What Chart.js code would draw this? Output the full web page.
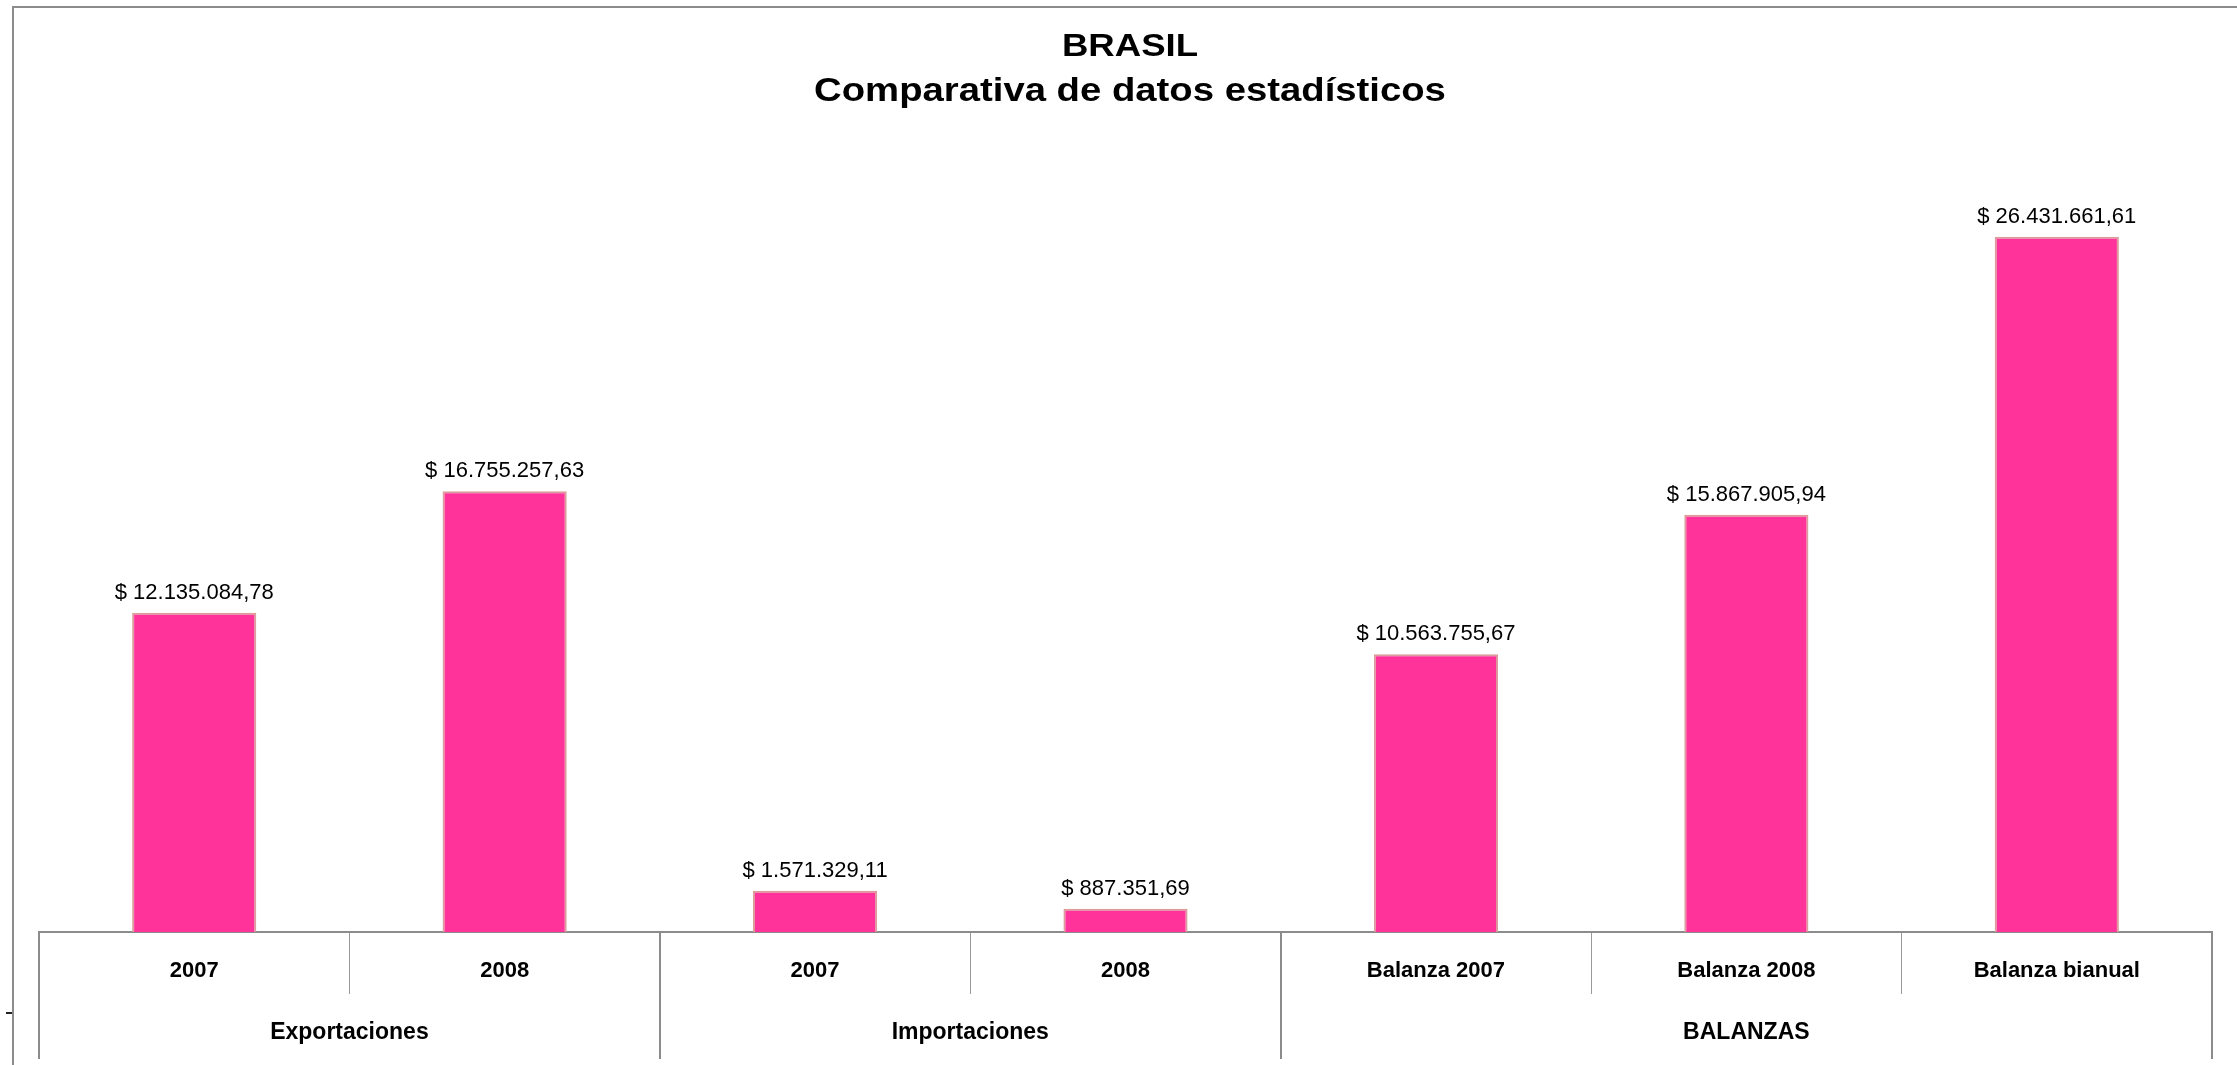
<!DOCTYPE html>
<html>
<head>
<meta charset="utf-8">
<script src="https://cdn.jsdelivr.net/npm/chart.js@4.4.1/dist/chart.umd.min.js"></script>
<style>
  html, body { margin: 0; padding: 0; background: #fff; }
  canvas { display: block; }
</style>
</head>
<body>
<canvas id="brasilChart" width="2237" height="1065"></canvas>
<script>
// Data
const categories = ['2007', '2008', '2007', '2008', 'Balanza 2007', 'Balanza 2008', 'Balanza bianual'];
const groupNames = ['Exportaciones', 'Importaciones', 'BALANZAS'];
const groupSpans = [2, 2, 3];
const values = [12135084.78, 16755257.63, 1571329.11, 887351.69, 10563755.67, 15867905.94, 26431661.61];
const titleLines = ['BRASIL', 'Comparativa de datos estadísticos'];

const FONT = '"Liberation Sans", Arial, sans-serif';

// $ 12.135.084,78 style
function fmtMoney(v) {
    const parts = v.toFixed(2).split('.');
    return '$ ' + parts[0].replace(/\B(?=(\d{3})+(?!\d))/g, '.') + ',' + parts[1];
}

const decorPlugin = {
    id: 'decor',
    afterDraw(chart) {
        const ctx = chart.ctx;
        const xs = chart.scales.x;
        const base = chart.chartArea.bottom;

        ctx.save();

        // outer frame (only top and left visible)
        ctx.strokeStyle = '#8c8c8c';
        ctx.lineWidth = 2;
        ctx.beginPath();
        ctx.moveTo(13, 1065);
        ctx.lineTo(13, 7);
        ctx.lineTo(2237, 7);
        ctx.stroke();
        // small dash on the left
        ctx.strokeStyle = '#222';
        ctx.beginPath();
        ctx.moveTo(6, 1013);
        ctx.lineTo(12, 1013);
        ctx.stroke();

        // title
        ctx.fillStyle = '#000';
        ctx.textAlign = 'center';
        ctx.textBaseline = 'alphabetic';
        const cx = 1130;
        [[titleLines[0], 31, 56, 1.18], [titleLines[1], 33, 101, 1.16]].forEach(([txt, size, y, sx]) => {
            ctx.save();
            ctx.translate(cx, y);
            ctx.scale(sx, 1);
            ctx.font = 'bold ' + size + 'px ' + FONT;
            ctx.fillText(txt, 0, 0);
            ctx.restore();
        });

        // category boundaries
        const edge = i => {
            if (i <= 0) return xs.left;
            if (i >= categories.length) return xs.right;
            return (xs.getPixelForValue(i - 1) + xs.getPixelForValue(i)) / 2;
        };

        // group divider lines
        ctx.strokeStyle = '#8c8c8c';
        ctx.lineWidth = 2;
        let start = 0;
        const bounds = [0];
        groupSpans.forEach(n => { start += n; bounds.push(start); });
        bounds.forEach(b => {
            const x = Math.round(edge(b));
            ctx.beginPath();
            ctx.moveTo(x, base);
            ctx.lineTo(x, 1059);
            ctx.stroke();
        });

        // category labels
        ctx.fillStyle = '#000';
        ctx.font = 'bold 22px ' + FONT;
        categories.forEach((c, i) => {
            ctx.fillText(c, xs.getPixelForValue(i), 977);
        });

        // group labels
        ctx.font = 'bold 23px ' + FONT;
        groupNames.forEach((g, k) => {
            const x = (edge(bounds[k]) + edge(bounds[k + 1])) / 2;
            ctx.fillText(g, x, 1039);
        });

        // value labels above bars
        ctx.font = '22px ' + FONT;
        const meta = chart.getDatasetMeta(0);
        meta.data.forEach((bar, i) => {
            ctx.fillText(fmtMoney(values[i]), bar.x, bar.y - 14);
        });

        ctx.restore();
    }
};

new Chart(document.getElementById('brasilChart'), {
    type: 'bar',
    data: {
        labels: categories,
        datasets: [{
            data: values,
            backgroundColor: '#ff3399',
            borderColor: '#dc9c9c',
            borderWidth: 2,
            barPercentage: 0.4,
            categoryPercentage: 1.0
        }]
    },
    options: {
        responsive: false,
        animation: false,
        layout: {
            padding: { top: 143, left: 39, right: 25, bottom: 71 }
        },
        plugins: {
            legend: { display: false },
            title: { display: false },
            tooltip: { enabled: false }
        },
        scales: {
            x: {
                offset: true,
                grid: {
                    offset: true,
                    drawOnChartArea: false,
                    tickLength: 62,
                    color: '#9a9a9a',
                    lineWidth: 1
                },
                border: { display: true, color: '#8c8c8c', width: 2 },
                ticks: { display: false }
            },
            y: {
                display: false,
                min: 0,
                max: 30000000
            }
        }
    },
    plugins: [decorPlugin]
});
</script>
</body>
</html>
